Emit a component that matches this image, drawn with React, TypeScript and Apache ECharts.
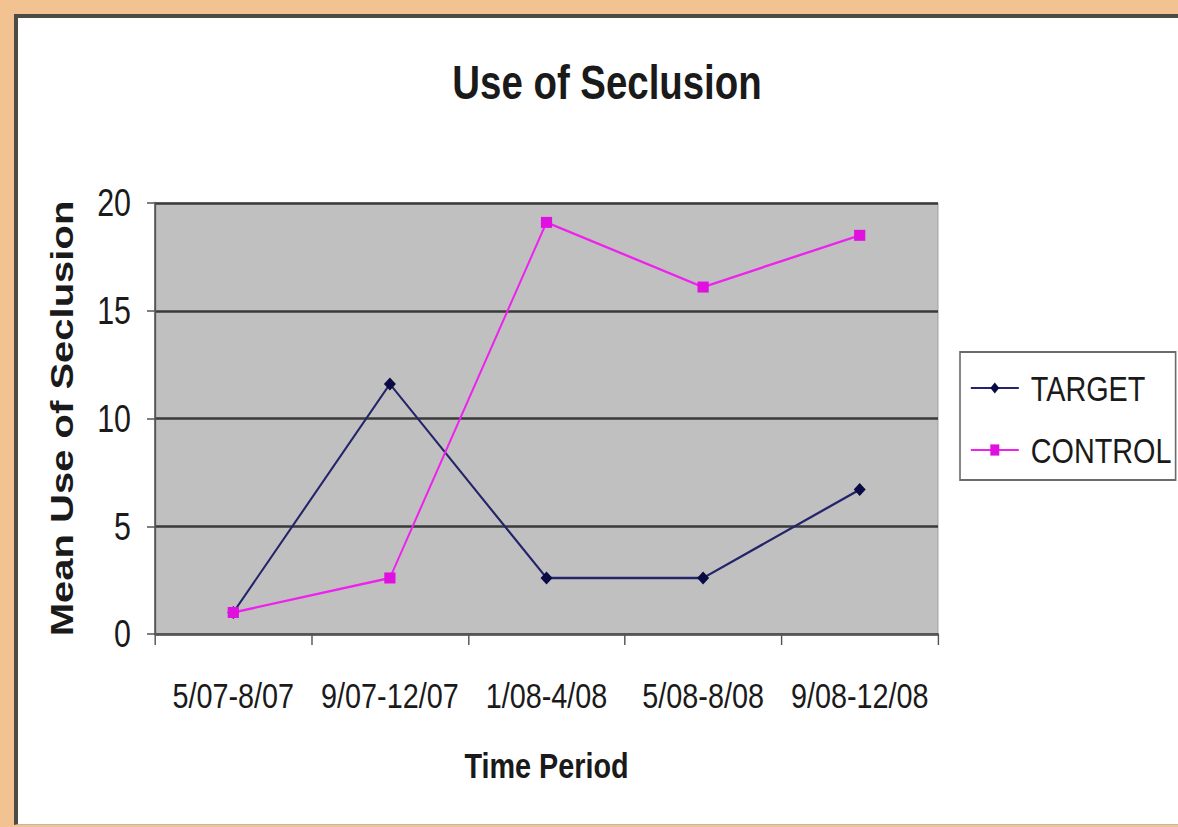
import React, { useEffect, useRef } from "react";
import * as echarts from "echarts";

const categories = ["5/07-8/07", "9/07-12/07", "1/08-4/08", "5/08-8/08", "9/08-12/08"];
const targetValues = [1.0, 11.6, 2.6, 2.6, 6.7];
const controlValues = [1.0, 2.6, 19.1, 16.1, 18.5];
const yTicks = { min: 0, max: 20, interval: 5 };

// the reference chart is horizontally squeezed; render wider and compress with CSS
const SX = 0.8;
const W = 1178;
const H = 827;
const cx = (x: number) => x / SX;

const FONT = "'Liberation Sans', Arial, Helvetica, sans-serif";
const TXT = "#1a1a1a";

export default function App() {
  const ref = useRef<HTMLDivElement>(null);
  useEffect(() => {
    if (!ref.current) return;
    const chart = echarts.init(ref.current, null, { renderer: "svg" });
    chart.setOption({
      animation: false,
      textStyle: { fontFamily: FONT },
      title: {
        text: "Use of Seclusion",
        left: cx(603),
        top: 53,
        textAlign: "center",
        textStyle: { fontFamily: FONT, fontSize: 48, fontWeight: "bold", color: TXT },
      },
      grid: {
        left: cx(155),
        top: 203,
        width: cx(783),
        height: 431,
        show: true,
        backgroundColor: "#c0c0c0",
        borderColor: "#9a9a9a",
        borderWidth: 1,
      },
      legend: {
        left: cx(960),
        top: 352,
        orient: "vertical",
        backgroundColor: "#ffffff",
        borderColor: "#6a6a6a",
        borderWidth: 2,
        borderRadius: 0,
        padding: [18, 5, 12, cx(10)],
        itemGap: 26,
        itemWidth: cx(48),
        itemHeight: 14,
        textStyle: { fontFamily: FONT, fontSize: 36, lineHeight: 36, color: TXT, padding: [0, 0, 0, 10] },
        data: ["TARGET", "CONTROL"],
      },
      xAxis: {
        type: "category",
        data: categories,
        boundaryGap: true,
        name: "Time Period",
        nameLocation: "middle",
        nameGap: 113,
        nameTextStyle: { fontFamily: FONT, fontSize: 36, fontWeight: "bold", color: TXT },
        axisLine: { show: true, lineStyle: { color: "#555555", width: 2 } },
        axisTick: { show: true, length: 11, lineStyle: { color: "#555555", width: 1.8 } },
        axisLabel: { fontFamily: FONT, fontSize: 36, color: TXT, margin: 43, interval: 0 },
        splitLine: { show: false },
      },
      yAxis: {
        type: "value",
        min: yTicks.min,
        max: yTicks.max,
        interval: yTicks.interval,
        name: "Mean Use of Seclusion",
        nameLocation: "middle",
        nameGap: 96,
        nameTextStyle: { fontFamily: FONT, fontSize: 40, fontWeight: "bold", color: TXT },
        axisLine: { show: true, lineStyle: { color: "#555555", width: 2.4 } },
        axisTick: { show: true, length: cx(8), lineStyle: { color: "#555555", width: 1.5 } },
        axisLabel: { fontFamily: FONT, fontSize: 38, color: TXT, margin: cx(24) },
        splitLine: { show: true, lineStyle: { color: "#3a3a3a", width: 2.5 } },
      },
      series: [
        {
          name: "TARGET",
          type: "line",
          data: targetValues,
          symbol: "diamond",
          symbolSize: [15, 13],
          itemStyle: { color: "#0a0a45" },
          lineStyle: { color: "#24246a", width: 2.4 },
          z: 3,
        },
        {
          name: "CONTROL",
          type: "line",
          data: controlValues,
          symbol: "rect",
          symbolSize: [14, 11],
          itemStyle: { color: "#e010e0" },
          lineStyle: { color: "#ee22ee", width: 2.4 },
          z: 4,
        },
      ],
    });
    return () => chart.dispose();
  }, []);

  return (
    <div style={{ position: "fixed", left: 0, top: 0, width: W, height: H, background: "#f2c290", overflow: "hidden" }}>
      <div
        style={{
          position: "absolute",
          left: 14,
          top: 14,
          width: W - 14,
          height: H - 16,
          boxSizing: "border-box",
          background: "#ffffff",
          borderTop: "4px solid #4e4a44",
          borderLeft: "4px solid #4e4a44",
          borderBottom: "1px solid #b8b8b8",
        }}
      />
      <div
        ref={ref}
        style={{
          position: "absolute",
          left: 0,
          top: 0,
          width: Math.ceil(W / SX),
          height: H,
          transform: `scaleX(${SX})`,
          transformOrigin: "0 0",
        }}
      />
    </div>
  );
}
